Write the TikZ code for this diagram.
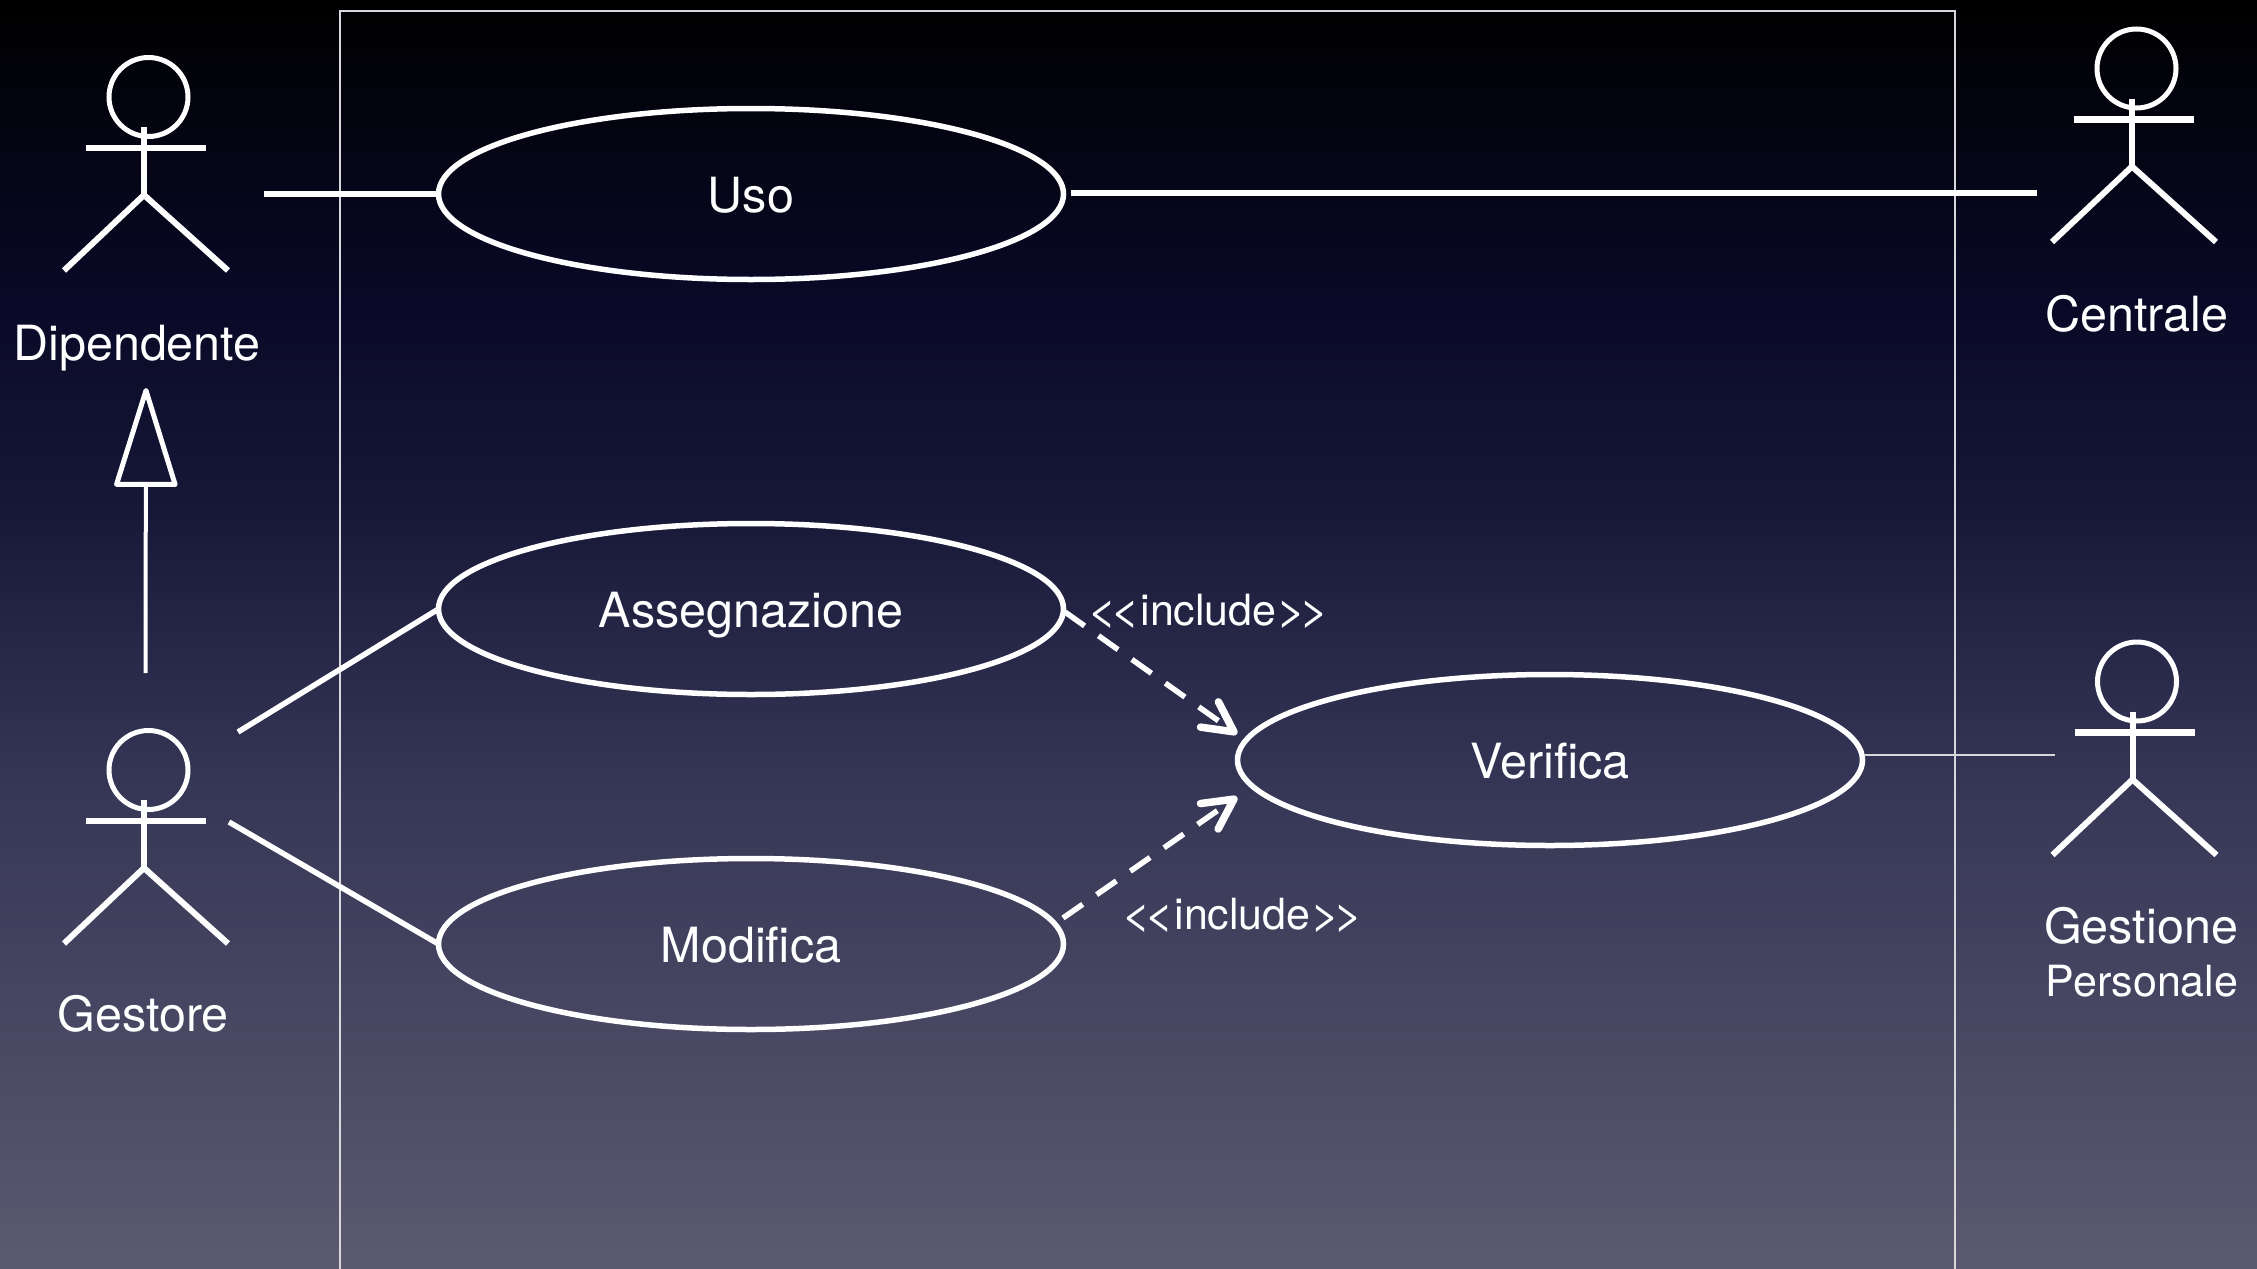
\documentclass[tikz,border=0pt]{standalone}
\usepackage{fontspec}
\setmainfont{TeX Gyre Heros}
\usetikzlibrary{arrows.meta,shapes.geometric}
\definecolor{bg0}{HTML}{000000}
\definecolor{bg1}{HTML}{03030E}
\definecolor{bg2}{HTML}{090927}
\definecolor{bg3}{HTML}{161636}
\definecolor{bg4}{HTML}{262647}
\definecolor{bg5}{HTML}{373757}
\definecolor{bg6}{HTML}{464662}
\definecolor{bg7}{HTML}{5C5A70}
\definecolor{ink}{HTML}{FFFFFF}
\definecolor{hair}{HTML}{D8D8DC}
\pgfdeclareverticalshading{backdrop}{100bp}{%
  color(0bp)=(bg7); color(25bp)=(bg7);
  color(35.5bp)=(bg6); color(43.5bp)=(bg5); color(49.8bp)=(bg4);
  color(55.3bp)=(bg3); color(63.2bp)=(bg2); color(71bp)=(bg1);
  color(75bp)=(bg0); color(100bp)=(bg0)}
\newcommand{\labelsize}{\fontsize{48.5}{48.5}\selectfont}
\newcommand{\smallsize}{\fontsize{43}{43}\selectfont}
\newcommand{\dblless}{\scalebox{1.2}[1]{<}\kern-7pt\scalebox{1.2}[1]{<}}
\newcommand{\dblgreater}{\scalebox{1.2}[1]{>}\kern-7pt\scalebox{1.2}[1]{>}}
\tikzset{
  x=1pt,y=-1pt,
  umlline/.style={draw=ink,line width=5.5pt},
  hairline/.style={draw=hair,line width=2pt},
  usecase/.style={ellipse,draw=ink,line width=5.5pt,minimum width=625pt,minimum height=171pt,
    inner sep=0pt,outer sep=0pt,text=ink,text height=36pt,text depth=0pt,font=\labelsize},
  actorlabel/.style={text=ink,inner sep=0pt,anchor=base,font=\labelsize},
  steretype/.style={text=ink,inner sep=0pt,anchor=base west,font=\smallsize},
  dep/.style={draw=ink,line width=5.5pt,dash pattern=on 24pt off 17pt,
    -{Straight Barb[length=30pt,width=31pt,line width=7.5pt,round]}},
  gen/.style={draw=ink,line width=4pt,
    -{Triangle[open,length=105pt,width=64pt,line width=5pt,round]}},
  actor/.pic={
    \draw[draw=ink,line width=5pt] (0,0) circle[radius=39.5];
    \draw[draw=ink,line width=6pt] (-4.5,30) -- (-4.5,98);
    \draw[draw=ink,line width=6.5pt] (-62.5,51) -- (57.5,51);
    \draw[draw=ink,line width=6pt] (-84.5,173.5) -- (-4.5,98) -- (79.5,173.5);
  }
}
\begin{document}
\begin{tikzpicture}
\useasboundingbox (0,0) rectangle (2257,1269);
\clip (0,0) rectangle (2257,1269);
\shade[shading=backdrop] (0,0) rectangle (2257,1269);

% system boundary
\draw[hairline] (340,1275) -- (340,11) -- (1955,11) -- (1955,1275);

% actors
\pic at (148.5,97) {actor};
\pic at (148.5,770) {actor};
\pic at (2136.5,68.5) {actor};
\pic at (2137,681.5) {actor};

\node[actorlabel] (dipendente) at (137,360) {Dipendente};
\node[actorlabel] (gestore) at (143,1031) {Gestore};
\node[actorlabel] (centrale) at (2137,331) {Centrale};
\node[actorlabel] (gestione) at (2141,943) {Gestione};
\node[actorlabel,font=\fontsize{43}{43}\selectfont] (personale) at (2142,996) {Personale};

% use cases
\node[usecase] (uso) at (751,194) {Uso};
\node[usecase] (assegnazione) at (751,609) {Assegnazione};
\node[usecase] (modifica) at (751,944) {Modifica};
\node[usecase] (verifica) at (1550,760) {Verifica};

% free ends
\coordinate (dipR) at (264,194);
\coordinate (usoR) at (1071,193);
\coordinate (cenL) at (2037,193);
\coordinate (gesA) at (238,732);
\coordinate (gesM) at (229,822);
\coordinate (gesU) at (145.5,673);
\coordinate (dipD) at (146,388);
\coordinate (gpL) at (2055,755);
\coordinate (verR) at (1864,755);
\coordinate (depA) at (1065,612);
\coordinate (depM) at (1063,918);
\coordinate (verA) at (1237,734);
\coordinate (verM) at (1237,797);

% connectors
\draw[umlline] (dipR) -- (uso.west);
\draw[umlline] (usoR) -- (cenL);
\draw[umlline] (gesA) -- (assegnazione.west);
\draw[umlline] (gesM) -- (modifica.west);
\draw[hairline] (verR) -- (gpL);
\draw[gen] (gesU) -- (dipD);
\draw[dep] (depA) -- (verA);
\draw[dep] (depM) -- (verM);

\node[steretype] (inc1) at (1087,625) {\dblless include\dblgreater};
\node[steretype] (inc2) at (1121,929) {\dblless include\dblgreater};
\end{tikzpicture}
\end{document}
